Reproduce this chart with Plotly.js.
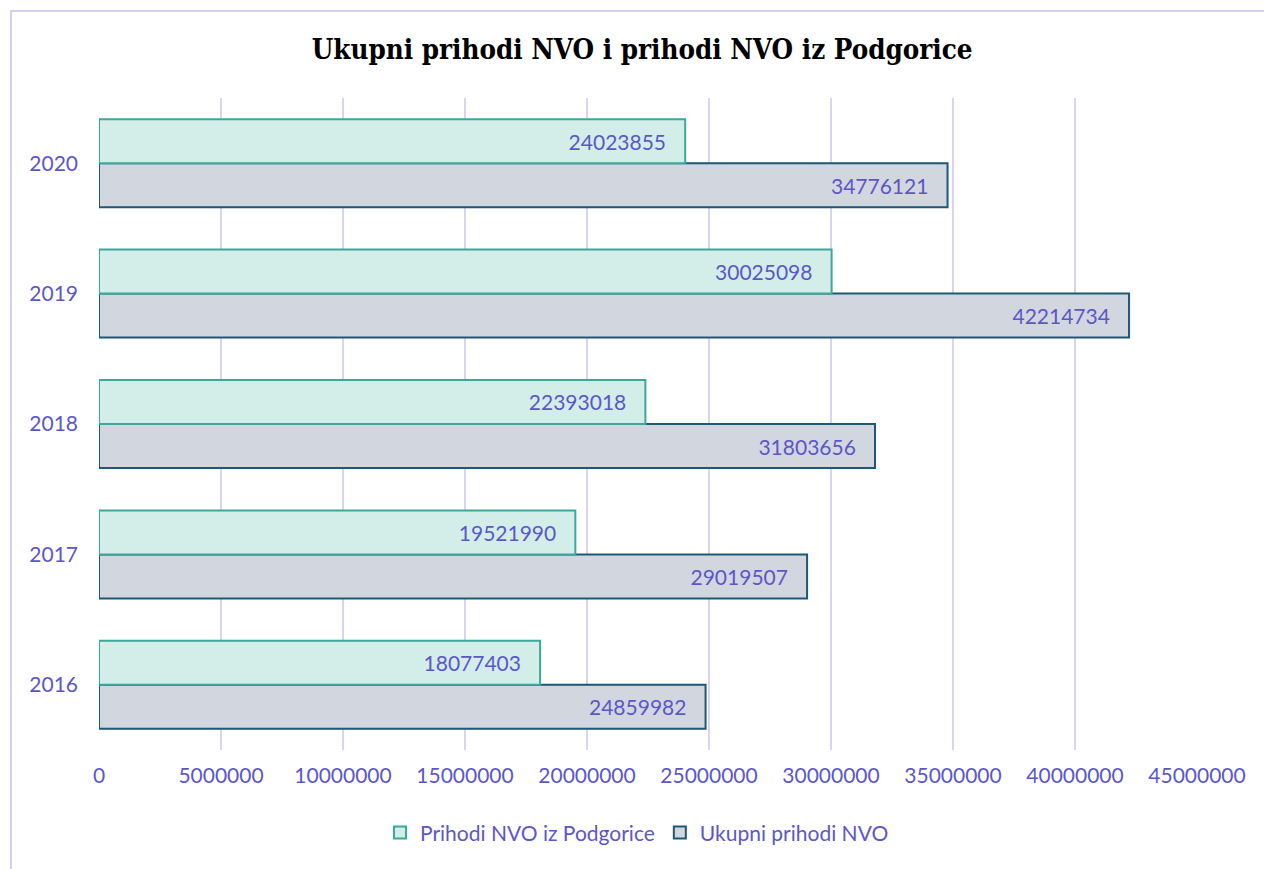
<!DOCTYPE html>
<html>
<head>
<meta charset="utf-8">
<script src="https://cdn.plot.ly/plotly-3.0.1.min.js"></script>
<style>
html,body{margin:0;padding:0;background:#fff;overflow:hidden;}
#frame{position:absolute;left:10px;top:10px;width:1300px;height:900px;border:2px solid #d4d0f2;box-sizing:border-box;pointer-events:none;z-index:5;}
#chart{position:absolute;left:0;top:0;width:1264px;height:869px;}
</style>
</head>
<body>
<div id="chart"></div>
<div id="frame"></div>
<script>
const years = ['2016','2017','2018','2019','2020'];
const ukupni = [24859982, 29019507, 31803656, 42214734, 34776121];
const podgorica = [18077403, 19521990, 22393018, 30025098, 24023855];
const seriesNames = ['Ukupni prihodi NVO', 'Prihodi NVO iz Podgorice'];
const xTicks = [0,5000000,10000000,15000000,20000000,25000000,30000000,35000000,40000000,45000000];

const txtColor = '#5b57c9';
const font = 'Lato, "Open Sans", sans-serif';
const pad = '\u00a0\u00a0\u00a0';

const traces = [
  {
    type:'bar', orientation:'h', name: seriesNames[0],
    y: years, x: ukupni,
    text: ukupni.map(v => String(v) + pad), textposition:'inside', insidetextanchor:'end',
    textfont:{color:txtColor, size:21, family:font},
    constraintext:'none',
    marker:{color:'#d2d6df', line:{color:'#1d5877', width:2}},
    hoverinfo:'x'
  },
  {
    type:'bar', orientation:'h', name: seriesNames[1],
    y: years, x: podgorica,
    text: podgorica.map(v => String(v) + pad), textposition:'inside', insidetextanchor:'end',
    textfont:{color:txtColor, size:21, family:font},
    constraintext:'none',
    marker:{color:'#d3ede9', line:{color:'#3aa89a', width:2}},
    hoverinfo:'x'
  }
];

const layout = {
  width:1264, height:869,
  margin:{l:99, r:67, t:98, b:119},
  paper_bgcolor:'#fff', plot_bgcolor:'#fff',
  barmode:'group', bargap:0.325, bargroupgap:0,
  uniformtext:{mode:false},
  title:{text:'<b>Ukupni prihodi NVO i prihodi NVO iz Podgorice</b>', x:0.508, xref:'container', xanchor:'center', y:0.943, yref:'container', yanchor:'middle',
         font:{family:'"DejaVu Serif Condensed", "Liberation Serif", serif', size:27.5, color:'#000'}},
  xaxis:{range:[0,45000000], tickvals:xTicks, ticktext:xTicks.map(String), showgrid:true, gridcolor:'#d8d4f2', gridwidth:2,
         zeroline:false, showline:false, ticks:'', ticklabelstandoff:11,
         tickfont:{family:font, size:21, color:txtColor}, fixedrange:true},
  yaxis:{type:'category', showgrid:false, zeroline:false, showline:false, ticks:'', ticklabelstandoff:20,
         tickfont:{family:font, size:21, color:txtColor}, fixedrange:true},
  showlegend:true,
  legend:{orientation:'h', traceorder:'reversed', x:0.49, xanchor:'center', y:-0.127, yanchor:'middle',
          font:{family:font, size:21, color:txtColor}, itemwidth:30},
};

Plotly.newPlot('chart', traces, layout, {displayModeBar:false, staticPlot:true});
</script>
</body>
</html>
